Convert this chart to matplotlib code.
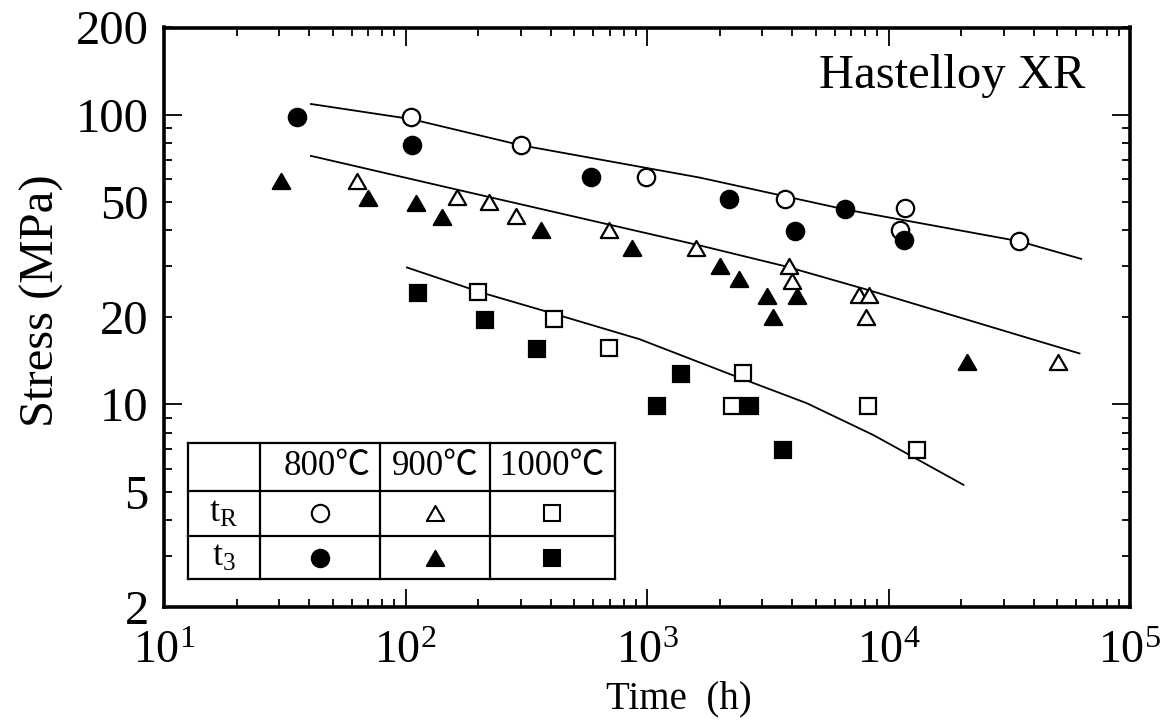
import numpy as np
import matplotlib
matplotlib.use("Agg")
import matplotlib.pyplot as plt
from matplotlib.ticker import FixedLocator, FuncFormatter
from matplotlib.markers import MarkerStyle
from matplotlib.path import Path

plt.rcParams['font.family'] = ['Liberation Serif', 'DejaVu Serif']
plt.rcParams['mathtext.fontset'] = 'custom'
plt.rcParams['mathtext.rm'] = 'Liberation Serif'
plt.rcParams['mathtext.it'] = 'Liberation Serif:italic'
plt.rcParams['mathtext.bf'] = 'Liberation Serif:bold'

# ---------------- data (time in h, stress in MPa) ----------------
tR_800_time = [105, 301, 993, 3730, 11700, 11200, 34600]
tR_800_stress = [98, 78.5, 61.2, 51.3, 47.7, 40.0, 36.8]
t3_800_time = [35.6, 106, 586, 2190, 6620, 4100, 11600]
t3_800_stress = [98.4, 78.5, 60.8, 51.1, 47.4, 39.6, 36.9]

tR_900_time = [62.8, 163, 221, 288, 698, 1590, 3870, 4000, 7530, 8280, 8070, 50200]
tR_900_stress = [59.0, 51.8, 50.0, 44.7, 39.9, 34.7, 30.0, 26.6, 23.9, 23.9, 20.0, 14.05]
t3_900_time = [30.4, 70.2, 111, 142, 363, 868, 2000, 2400, 3130, 4170, 3340, 21200]
t3_900_stress = [59.0, 51.4, 49.7, 44.5, 40.0, 34.7, 30.0, 27.0, 23.6, 23.6, 20.0, 14.05]

tR_1000_time = [199, 412, 698, 2500, 2240, 8230, 13150]
tR_1000_stress = [24.4, 19.7, 15.7, 12.8, 9.9, 9.9, 6.95]
t3_1000_time = [113, 214, 352, 1387, 1099, 2668, 3673]
t3_1000_stress = [24.3, 19.6, 15.6, 12.7, 9.9, 9.9, 6.95]

fit_800_time = [40.6, 105.6, 300, 1650, 6620, 34700, 62800]
fit_800_stress = [108.9, 96.6, 78.5, 60.7, 47.1, 36.6, 31.8]
fit_900_time = [40.6, 161, 1650, 3730, 8150, 61800]
fit_900_stress = [72.1, 55.3, 35.4, 30.0, 24.9, 15.0]
fit_1000_time = [101.4, 207.6, 393, 931, 2275, 4590, 8690, 20440]
fit_1000_stress = [29.7, 24.3, 20.8, 16.8, 12.6, 10.1, 7.83, 5.28]

x_major = [1e1, 1e2, 1e3, 1e4, 1e5]
y_major = [10, 100]
y_labelled = [2, 5, 10, 20, 50, 100, 200]
temps = ['800℃', '900℃', '1000℃']
row_labels = [r'$\mathrm{t_R}$', r'$\mathrm{t_3}$']
title_text = 'Hastelloy XR'

# ---------------- figure ----------------
W, H = 1167, 726
fig = plt.figure(figsize=(W / 100, H / 100), dpi=100)
ax = fig.add_axes([164 / W, 1 - 607 / H, 966 / W, 579.5 / H])
ax.set_xscale('log')
ax.set_yscale('log')
ax.set_xlim(10, 1e5)
ax.set_ylim(2, 200)

# triangle marker (equilateral)
tri = MarkerStyle(Path([(-1, -0.866), (1, -0.866), (0, 0.866), (-1, -0.866)],
                       [Path.MOVETO, Path.LINETO, Path.LINETO, Path.CLOSEPOLY]),
                  joinstyle='miter')

ms = 12.5
mew = 1.6
for xs, ys in [(fit_800_time, fit_800_stress), (fit_900_time, fit_900_stress),
               (fit_1000_time, fit_1000_stress)]:
    ax.plot(xs, ys, color='black', lw=1.3, zorder=2)

open_kw = dict(linestyle='none', mfc='white', mec='black', mew=mew, zorder=3)
fill_kw = dict(linestyle='none', mfc='black', mec='black', mew=mew, zorder=4)
ax.plot(tR_800_time, tR_800_stress, marker='o', ms=ms, **open_kw)
ax.plot(tR_900_time, tR_900_stress, marker=tri, ms=ms, **open_kw)
ax.plot(tR_1000_time, tR_1000_stress, marker='s', ms=ms - 0.5, **open_kw)
ax.plot(t3_800_time, t3_800_stress, marker='o', ms=ms, **fill_kw)
ax.plot(t3_900_time, t3_900_stress, marker=tri, ms=ms, **fill_kw)
ax.plot(t3_1000_time, t3_1000_stress, marker='s', ms=ms - 0.5, **fill_kw)

# ---------------- axes styling ----------------
for s in ax.spines.values():
    s.set_linewidth(2.6)

ax.xaxis.set_major_locator(FixedLocator(x_major))
ax.xaxis.set_minor_locator(FixedLocator(
    [m * 10 ** e for e in range(1, 5) for m in range(2, 10)]))
ax.xaxis.set_major_formatter(FuncFormatter(
    lambda v, p: r'$\mathregular{10^{%d}}$' % int(round(np.log10(v)))))
ax.xaxis.set_minor_formatter(FuncFormatter(lambda v, p: ''))

ax.yaxis.set_major_locator(FixedLocator(y_major))
ax.yaxis.set_minor_locator(FixedLocator(
    [m * 10 ** e for e in range(0, 3) for m in range(2, 10) if m * 10 ** e <= 200]))
ax.yaxis.set_major_formatter(FuncFormatter(lambda v, p: '%g' % v))
ax.yaxis.set_minor_formatter(FuncFormatter(
    lambda v, p: ('%g' % v) if any(abs(v - l) < 1e-6 for l in y_labelled) else ''))

ax.tick_params(which='both', direction='in', top=True, right=True, width=1.3)
ax.tick_params(which='major', length=13)
ax.tick_params(which='minor', length=6)
ax.tick_params(axis='x', which='both', labelsize=33, pad=17)
ax.tick_params(axis='y', which='both', labelsize=35, pad=11)

ax.set_xlabel('Time  (h)', fontsize=28)
ax.xaxis.set_label_coords(0.533, -0.127)
ax.set_ylabel('Stress (MPa)', fontsize=35)
ax.yaxis.set_label_coords(-0.104, 0.528)

ax.text(0.9534, 0.895, title_text, transform=ax.transAxes, fontsize=35,
        ha='right', va='baseline')

# ---------------- symbol table ----------------
tx = [0.0245, 0.0992, 0.2234, 0.3373, 0.4666]
ty = [0.2836, 0.2006, 0.1225, 0.0478]
tk = dict(transform=ax.transAxes, color='black', lw=1.6, zorder=6, clip_on=False)
ax.fill([tx[0], tx[-1], tx[-1], tx[0]], [ty[0], ty[0], ty[-1], ty[-1]],
        color='white', transform=ax.transAxes, zorder=5)
for x in tx:
    ax.plot([x, x], [ty[0], ty[-1]], **tk)
for y in ty:
    ax.plot([tx[0], tx[-1]], [y, y], **tk)

hy = (ty[0] + ty[1]) / 2
for i, t in enumerate(temps):
    cx = (tx[i + 1] + tx[i + 2]) / 2
    ax.text(cx + (0.008 if i == 0 else 0), hy, t, transform=ax.transAxes, fontsize=25,
            family=['Liberation Serif', 'Noto Sans CJK JP', 'DejaVu Serif'],
            ha='center', va='center', zorder=7)

lms = 12.5
row_markers = ['o', tri, 's']
for r, lab in enumerate(row_labels):
    cy = (ty[r + 1] + ty[r + 2]) / 2
    ax.text((tx[0] + tx[1]) / 2, cy, lab, transform=ax.transAxes, fontsize=26,
            ha='center', va='center', zorder=7)
    for c, mk in enumerate(row_markers):
        cx = (tx[c + 1] + tx[c + 2]) / 2
        face = 'white' if r == 0 else 'black'
        ax.plot([cx], [cy], marker=mk, ms=lms if mk != 's' else lms - 0.5,
                mfc=face, mec='black', mew=1.5, linestyle='none',
                transform=ax.transAxes, zorder=7, clip_on=False)

fig.savefig('out.png', dpi=100)
